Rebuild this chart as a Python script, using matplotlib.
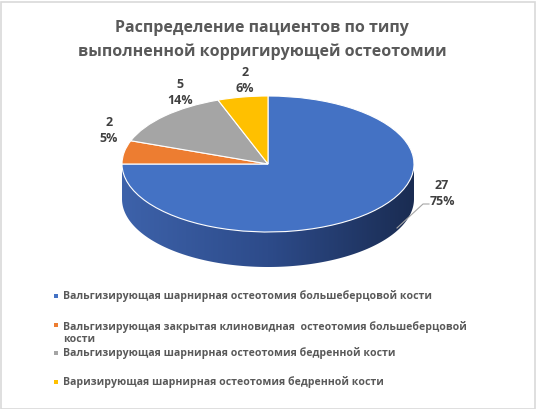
import numpy as np
import matplotlib
matplotlib.use("Agg")
import matplotlib.pyplot as plt
from matplotlib.patches import Polygon, Rectangle
from matplotlib.colors import LinearSegmentedColormap

plt.rcParams['font.family'] = ['Open Sans', 'DejaVu Sans']

title = "Распределение пациентов по типу\nвыполненной корригирующей остеотомии"
categories = [
    "Вальгизирующая шарнирная остеотомия большеберцовой кости",
    "Вальгизирующая закрытая клиновидная  остеотомия большеберцовой\nкости",
    "Вальгизирующая шарнирная остеотомия бедренной кости",
    "Варизирующая шарнирная остеотомия бедренной кости",
]
counts = [27, 2, 5, 2]
percent_labels = ["75%", "5%", "14%", "6%"]
colors = ["#4472C4", "#ED7D31", "#A5A5A5", "#FFC000"]

# layout in pixels
W, H = 536, 409
cx, cy = 268, 164          # pie centre (from top)
rx, ry = 146, 68           # ellipse radii
depth = 35 / ry            # side thickness in data units

fig = plt.figure(figsize=(W / 100, H / 100), dpi=100)
fig.patch.set_facecolor("white")
ax = fig.add_axes([0, 0, 1, 1])

# side of the pie (only the front is visible, all blue)
t = np.linspace(np.pi, 2 * np.pi, 200)
side = np.column_stack([np.cos(t), np.sin(t) - depth])
side = np.vstack([side, [[1, 0], [-1, 0]]])
clip = Polygon(side, closed=True, facecolor="none", edgecolor="none")
ax.add_patch(clip)
grad = np.linspace(0, 1, 256).reshape(1, -1)
cmap = LinearSegmentedColormap.from_list("side", ["#3d62aa", "#2d4b8a", "#1a2c52"])
im = ax.imshow(grad, extent=[-1, 1, -1 - depth, 0], aspect="auto", cmap=cmap, zorder=1)
im.set_clip_path(clip)

wedges, _ = ax.pie(counts, colors=colors, startangle=90, counterclock=False,
                   wedgeprops=dict(edgecolor="white", linewidth=0.8))
for w in wedges:
    w.set_zorder(2)

ax.set_aspect("auto")
ax.set_xlim(-cx / rx, (W - cx) / rx)
ax.set_ylim(-(H - cy) / ry, cy / ry)
ax.axis("off")

# data labels
label_pos = [(442, 193), (109, 130), (180, 93), (245, 80)]
for (px, py), n, p in zip(label_pos, counts, percent_labels):
    ax.text((px - cx) / rx, (cy - py) / ry, f"{n}\n{p}", ha="center", va="center",
            fontsize=9, fontweight="bold", color="#404040", linespacing=1.3, zorder=5)

# leader line for the big slice
lx = [(397 - cx) / rx, (423 - cx) / rx, (429 - cx) / rx]
ly = [(cy - 228) / ry, (cy - 204) / ry, (cy - 204) / ry]
ax.plot(lx, ly, color="#a6a6a6", lw=0.8, zorder=4)

# title
fig.text(262 / W, 1 - 40 / H, title, ha="center", va="center", fontsize=11.5,
         fontweight="bold", color="#595959", linespacing=1.55)

# legend
legend_y = [296, 333, 353, 382]
marker_y = [296, 325, 353, 382]
for y, my, lab, c in zip(legend_y, marker_y, categories, colors):
    fig.patches.append(Rectangle((54 / W, 1 - (my + 2) / H), 4 / W, 4 / H,
                                 transform=fig.transFigure, facecolor=c, edgecolor="none"))
    fig.text(63 / W, 1 - y / H, lab, ha="left", va="center",
             fontsize=7.6, fontweight="bold", color="#595959", linespacing=1.15)

# chart border
fig.patches.append(Rectangle((0.5 / W, 0.5 / H), 1 - 2 / W, 1 - 2 / H, transform=fig.transFigure,
                             facecolor="none", edgecolor="#d9d9d9", lw=1.2))

fig.savefig("out.png", dpi=100)
